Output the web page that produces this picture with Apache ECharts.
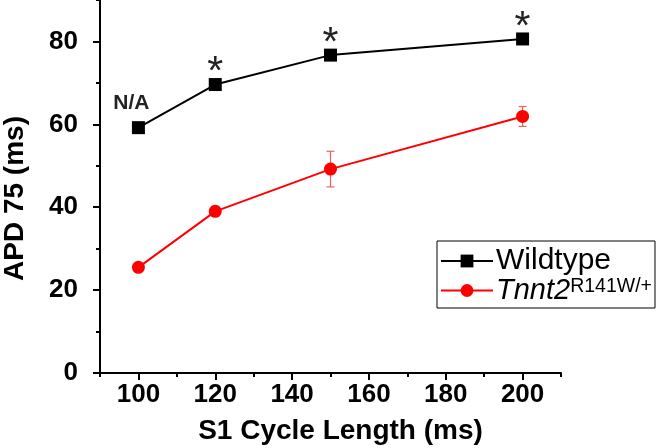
<!DOCTYPE html>
<html>
<head>
<meta charset="utf-8">
<script src="https://cdn.jsdelivr.net/npm/echarts@6/dist/echarts.min.js"></script>
<style>
html,body{margin:0;padding:0;background:#fff;}
#chart{width:660px;height:448px;}
</style>
</head>
<body>
<div id="chart"></div>
<script>
// ---- data ----
var cycleLengths = [100, 120, 150, 200];
var wildtype = [59.2, 69.6, 76.7, 80.6];
var tnnt2 = [25.5, 39.0, 49.2, 61.9];
var tnnt2Err = [1.0, 1.2, 4.3, 2.4];
var markLabels = ['N/A', '*', '*', '*'];
var xMajorTicks = [100, 120, 140, 160, 180, 200];
var xMinorTicks = [90, 110, 130, 150, 170, 190, 210];
var yMajorTicks = [0, 20, 40, 60, 80];
var yMinorTicks = [10, 30, 50, 70, 90];

var FONT = 'Liberation Sans, Arial, sans-serif';

var wildData = cycleLengths.map(function (x, i) {
  var isNA = markLabels[i] === 'N/A';
  return {
    value: [x, wildtype[i]],
    label: isNA ? {
      show: true, position: 'top', distance: 7, offset: [-7, 0],
      formatter: markLabels[i], fontFamily: FONT, fontWeight: 'bold',
      fontSize: 21, lineHeight: 21, color: '#222'
    } : {
      show: true, position: 'top', distance: -5,
      formatter: markLabels[i], fontFamily: FONT, fontWeight: 'normal',
      fontSize: 41, lineHeight: 20, color: '#222'
    }
  };
});
var tnntData = cycleLengths.map(function (x, i) { return [x, tnnt2[i]]; });
var errData = cycleLengths.map(function (x, i) { return [x, tnnt2[i], tnnt2Err[i]]; });

var chart = echarts.init(document.getElementById('chart'), null, {renderer: 'canvas'});

var axisLineStyle = {color: '#000', width: 2};

chart.setOption({
  animation: false,
  backgroundColor: '#fff',
  grid: {left: 100, right: 99, top: 0, bottom: 75, containLabel: false, outerBoundsMode: 'none'},
  legend: {
    orient: 'vertical',
    left: 437, top: 241,
    data: ['Wildtype', 'Tnnt2'],
    itemWidth: 52, itemHeight: 16, itemGap: 0,
    itemStyle: {borderWidth: 0},
    padding: [5, 3, 3, 3],
    borderColor: '#000', borderWidth: 1,
    selectedMode: false,
    textStyle: {
      fontFamily: FONT, fontSize: 30, lineHeight: 27, color: '#000', padding: [0, 0, 0, -2],
      rich: {
        it: {fontFamily: FONT, fontSize: 29, lineHeight: 27, fontStyle: 'italic', color: '#000'},
        sup: {fontFamily: FONT, fontSize: 19.5, lineHeight: 20, verticalAlign: 'top', color: '#000'}
      }
    },
    formatter: function (name) {
      if (name === 'Tnnt2') return '{it|Tnnt2}{sup|R141W/+}';
      return name;
    }
  },
  xAxis: [{
    type: 'value', min: 90, max: 210, position: 'bottom',
    name: 'S1 Cycle Length (ms)', nameLocation: 'middle', nameGap: 44,
    nameTextStyle: {fontFamily: FONT, fontWeight: 'bold', fontSize: 28, lineHeight: 28, color: '#000', padding: [0, 0, 0, 20]},
    axisLine: {show: true, onZero: false, lineStyle: axisLineStyle},
    axisTick: {show: true, inside: false, length: 7, customValues: xMajorTicks, lineStyle: {color: '#000', width: 2}},
    axisLabel: {show: true, customValues: xMajorTicks, margin: 9,
      fontFamily: FONT, fontWeight: 'bold', fontSize: 26, lineHeight: 26, color: '#000'},
    splitLine: {show: false}
  }, {
    type: 'value', min: 90, max: 210, position: 'bottom',
    axisLine: {show: false, onZero: false},
    axisTick: {show: true, inside: false, length: 4, customValues: xMinorTicks, lineStyle: {color: '#000', width: 2}},
    axisLabel: {show: false},
    splitLine: {show: false}
  }],
  yAxis: [{
    type: 'value', min: 0, max: 90, position: 'left',
    name: 'APD 75 (ms)', nameLocation: 'middle', nameGap: 71,
    nameTextStyle: {fontFamily: FONT, fontWeight: 'bold', fontSize: 28, lineHeight: 28, color: '#000', padding: [0, 24, 0, 0]},
    axisLine: {show: true, onZero: false, lineStyle: axisLineStyle},
    axisTick: {show: true, inside: false, length: 7, customValues: yMajorTicks, lineStyle: {color: '#000', width: 2}},
    axisLabel: {show: true, customValues: yMajorTicks, margin: 22,
      fontFamily: FONT, fontWeight: 'bold', fontSize: 26, lineHeight: 26, color: '#000'},
    splitLine: {show: false}
  }, {
    type: 'value', min: 0, max: 90, position: 'left',
    axisLine: {show: false, onZero: false},
    axisTick: {show: true, inside: false, length: 4, customValues: yMinorTicks, lineStyle: {color: '#000', width: 2}},
    axisLabel: {show: false},
    splitLine: {show: false}
  }],
  series: [{
    name: 'Tnnt2 err',
    type: 'custom',
    xAxisIndex: 0, yAxisIndex: 0,
    z: 1,
    silent: true,
    data: errData,
    renderItem: function (params, api) {
      var x = api.value(0), y = api.value(1), e = api.value(2);
      var hi = api.coord([x, y + e]);
      var lo = api.coord([x, y - e]);
      var w = 4;
      var st = {stroke: '#f06060', lineWidth: 1.2};
      return {
        type: 'group',
        children: [
          {type: 'line', shape: {x1: hi[0], y1: hi[1], x2: lo[0], y2: lo[1]}, style: st},
          {type: 'line', shape: {x1: hi[0] - w, y1: hi[1], x2: hi[0] + w, y2: hi[1]}, style: st},
          {type: 'line', shape: {x1: lo[0] - w, y1: lo[1], x2: lo[0] + w, y2: lo[1]}, style: st}
        ]
      };
    }
  }, {
    name: 'Wildtype',
    type: 'line',
    xAxisIndex: 0, yAxisIndex: 0,
    z: 3,
    data: wildData,
    symbol: 'rect', symbolSize: 13,
    lineStyle: {color: '#000', width: 2},
    itemStyle: {color: '#000'},
    emphasis: {disabled: true}
  }, {
    name: 'Tnnt2',
    type: 'line',
    xAxisIndex: 0, yAxisIndex: 0,
    z: 3,
    data: tnntData,
    symbol: 'circle', symbolSize: 13,
    lineStyle: {color: '#ff0000', width: 2},
    itemStyle: {color: '#ff0000'},
    emphasis: {disabled: true}
  }]
});
</script>
</body>
</html>
